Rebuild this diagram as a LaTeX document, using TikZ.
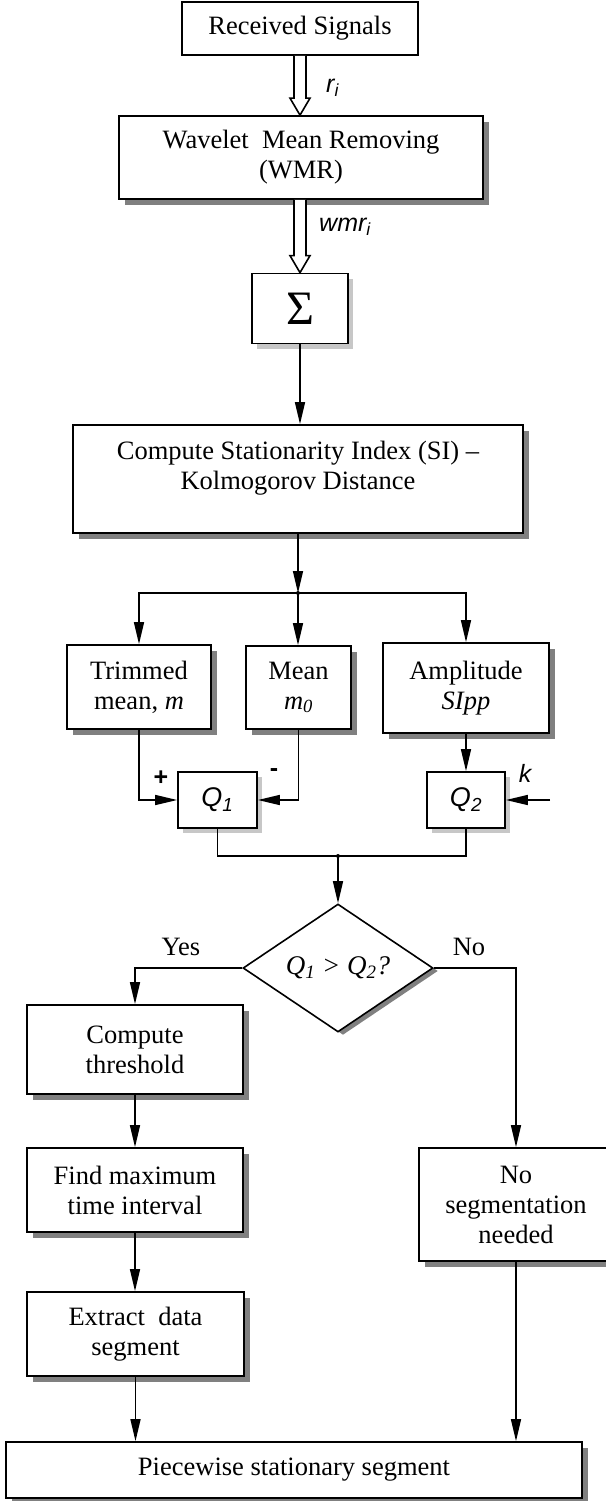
\documentclass[tikz,border=0pt]{standalone}
\usepackage{fontspec}
\setmainfont{Liberation Serif}
\newfontfamily\lsans{Liberation Sans}
\usetikzlibrary{arrows.meta,shapes.geometric,shadows}
\newcommand\hollowarr[2]{\draw[hollow] ([xshift=-6pt]#1) -- ([xshift=-6pt,yshift=17pt]#2) -- ([xshift=-10pt,yshift=17pt]#2) -- (#2) -- ([xshift=10pt,yshift=17pt]#2) -- ([xshift=6pt,yshift=17pt]#2) -- ([xshift=6pt]#1);}
\begin{document}
\begin{tikzpicture}[x=1pt,y=-1pt,
  base/.style={draw=black, line width=1.7pt, fill=white, inner sep=0pt, align=center, font=\fontsize{26.5}{30}\selectfont},
  plainbox/.style={base, rectangle},
  box/.style={base, rectangle, drop shadow={shadow xshift=6pt, shadow yshift=-6pt, fill=black!50, opacity=1}},
  gbox/.style={base, rectangle, drop shadow={shadow xshift=5pt, shadow yshift=-5pt, fill=black!22, opacity=1}},
  txt/.style={inner sep=0pt, align=center, font=\fontsize{26.5}{30}\selectfont},
  lbl/.style={inner sep=0pt, font=\lsans\itshape\fontsize{25}{25}\selectfont},
  pm/.style={inner sep=0pt, font=\lsans\bfseries\fontsize{25}{25}\selectfont},
  conn/.style={line width=1.5pt},
  arr/.style={conn, -{Triangle[length=22pt,width=10pt]}},
  hollow/.style={line width=1.6pt, fill=white, line join=miter}
]
\useasboundingbox (0,0) rectangle (605,1501);

% nodes
\node[plainbox, minimum width=236pt, minimum height=53pt] (recv) at (300,28.5) {Received Signals};
\node[box, minimum width=364pt, minimum height=83pt] (wmr) at (301,157.5) {Wavelet\ \ Mean Removing\\(WMR)};
\node[gbox, minimum width=96pt, minimum height=70pt, font=\fontsize{48}{48}\selectfont] (sig) at (300,308.5) {Σ};
\node[box, minimum width=450pt, minimum height=108pt] (si) at (298,479) {};
\node[txt] (sitxt) at (298,468) {Compute Stationarity Index (SI) –\\Kolmogorov Distance};
\node[box, minimum width=144pt, minimum height=84pt] (trim) at (139,687) {Trimmed\\mean, \textit{m}};
\node[box, minimum width=105pt, minimum height=83pt] (mean) at (298.5,687.5) {Mean\\\textit{m\textsubscript{0}}};
\node[box, minimum width=166pt, minimum height=90pt] (ampl) at (466,688) {Amplitude\\\textit{SIpp}};
\node[gbox, minimum width=79pt, minimum height=56pt, font=\lsans\itshape\fontsize{27}{27}\selectfont] (q1) at (217.5,800) {Q\textsubscript{1}};
\node[gbox, minimum width=78pt, minimum height=56pt, font=\lsans\itshape\fontsize{27}{27}\selectfont] (q2) at (466,800) {Q\textsubscript{2}};
\node[diamond, draw=black, line width=1.6pt, fill=white, inner sep=0pt, minimum width=190pt, minimum height=128pt,
  drop shadow={shadow xshift=5pt, shadow yshift=-3pt, fill=black!50, opacity=1},
  font=\fontsize{27}{30}\selectfont] (dec) at (338,968) {\textit{Q\textsubscript{1} > Q\textsubscript{2}?}};
\node[box, minimum width=216pt, minimum height=89pt] (thr) at (135,1049.5) {Compute\\threshold};
\node[box, minimum width=216pt, minimum height=84pt] (find) at (135,1190) {Find maximum\\time interval};
\node[box, minimum width=194pt, minimum height=113pt] (noseg) at (516,1204.5) {No\\segmentation\\needed};
\node[box, minimum width=217pt, minimum height=84pt] (extr) at (135.5,1334) {Extract\ \ data\\segment};
\node[box, minimum width=576pt, minimum height=56pt] (piece) at (294,1470) {Piecewise stationary segment};

% hollow arrows
\coordinate (h1b) at (recv.south |- wmr.north);
\hollowarr{recv.south}{h1b}
\coordinate (h2t) at (sig.north |- wmr.south);
\hollowarr{h2t}{sig.north}

% labels
\node[lbl, anchor=west] (rlab) at (326,88) {r\textsubscript{i}};
\node[lbl, anchor=west] (wlab) at (319,227) {wmr\textsubscript{i}};
\node[lbl] (klab) at (525,773) {k};
\node[pm] (plus) at (161,778) {+};
\node[pm] (minus) at (274,773) {-};
\node[txt] (yes) at (181,947) {Yes};
\node[txt] (no) at (469,947) {No};

% connectors
\draw[arr] (sig.south) -- (sig.south |- si.north);
\coordinate (j1) at (298,593);
\draw[arr] (si.south) -- (j1);
\fill (j1) circle (2pt);
\draw[arr] (j1) -| (trim.north);
\draw[arr] (j1) -- (j1 |- mean.north);
\draw[arr] (j1) -| (ampl.north);
\draw[arr] (trim.south) |- (q1.west);
\draw[arr] (mean.south) |- (q1.east);
\draw[arr] (ampl.south) -- (q2.north);
\coordinate (kin) at (550,800);
\draw[arr] (kin) -- (q2.east);
\coordinate (j2) at (338,856);
\draw[conn] (q1.south) |- (j2) -| (q2.south);
\fill (j2) circle (2pt);
\draw[arr] (j2) -- (dec.north);
\draw[arr] (dec.west) -| (thr.north);
\draw[arr] (dec.east) -| (noseg.north);
\draw[arr] (thr.south) -- (find.north);
\draw[arr] (find.south) -- (find.south |- extr.north);
\draw[arr] (extr.south) -- (extr.south |- piece.north);
\draw[arr] (noseg.south) -- (noseg.south |- piece.north);
\end{tikzpicture}
\end{document}
